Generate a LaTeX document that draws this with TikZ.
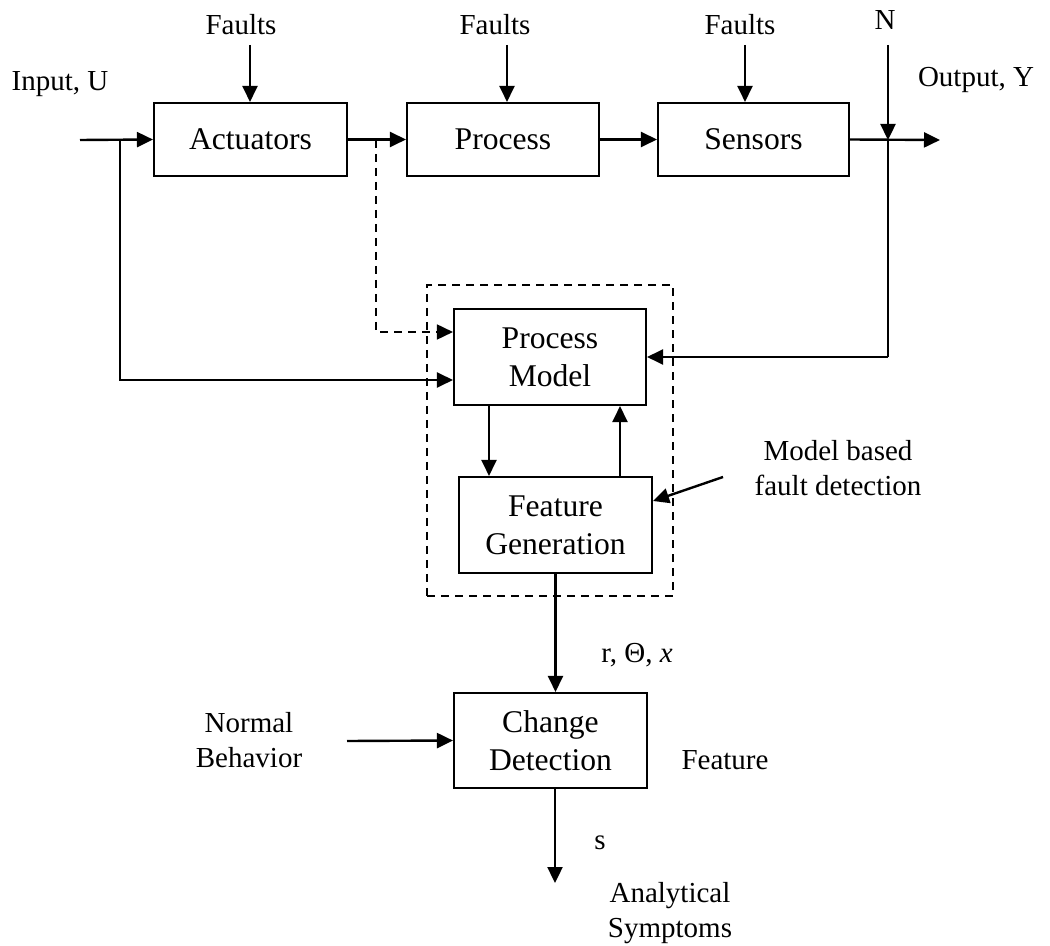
\documentclass[tikz,border=0pt]{standalone}
\usepackage{fontspec}
\setmainfont{Liberation Serif}
\usetikzlibrary{arrows.meta,calc}
\begin{document}
\begin{tikzpicture}[x=0.5pt,y=-0.5pt,
  blk/.style={draw,line width=1.05pt,inner sep=0pt,align=center,
    font=\fontsize{15.8}{19}\selectfont},
  lbl/.style={inner sep=0pt,align=center,font=\fontsize{14.5}{17.5}\selectfont},
  arr/.style={line width=1.2pt,-{Triangle[length=8pt,width=7.5pt]}},
  wire/.style={line width=1.2pt},
  dsh/.style={line width=0.85pt,dash pattern=on 4pt off 3pt}]
\useasboundingbox (0,0) rectangle (1050,946);

% main chain
\node[blk,minimum width=96.5pt,minimum height=36.5pt] (act)  at (250.5,139.5) {Actuators};
\node[blk,minimum width=96pt,minimum height=36.5pt]   (proc) at (503,139.5) {Process};
\node[blk,minimum width=95.5pt,minimum height=36.5pt] (sens) at (753.5,139.5) {Sensors};

% model based part
\node[dsh,draw,minimum width=123pt,minimum height=155.5pt,inner sep=0pt] (mbox) at (550,440.5) {};
\node[blk,minimum width=96pt,minimum height=48pt]   (pm) at (550,357) {Process\\Model};
\node[blk,minimum width=96.5pt,minimum height=48pt] (fg) at (555.5,525) {Feature\\Generation};
\node[blk,minimum width=96.5pt,minimum height=47.5pt] (cd) at (550.5,740.5) {Change\\Detection};

% labels
\node[lbl] (inl)  at (60,84)   {Input, U};
\node[lbl] (fa1)  at (241,25)  {Faults};
\node[lbl] (fa2)  at (495,25)  {Faults};
\node[lbl] (fa3)  at (740,25)  {Faults};
\node[lbl] (nl)   at (885,20)  {N};
\node[lbl] (outl) at (976,80)  {Output, Y};
\node[lbl] (mbl)  at (838,468) {Model based\\fault detection};
\node[lbl] (rl)   at (637,655) {r, Θ, \textit{x}};
\node[lbl] (nbl)  at (249,740) {Normal\\Behavior};
\node[lbl] (fl)   at (725,760) {Feature};
\node[lbl] (sl)   at (600,843) {s};
\node[lbl] (asl)  at (670,913) {Analytical\\Symptoms};

% signal points
\coordinate (uin)  at (80,140);
\coordinate (ub)   at (120,140);
\coordinate (ab)   at (376,140);
\coordinate (yout) at (940,140);
\coordinate (ntop) at (888,45);
\coordinate (nj)   at (888,140);
\coordinate (f1)   at (250,45);
\coordinate (f2)   at (507,45);
\coordinate (f3)   at (745,45);
\coordinate (dn)   at (489,0);
\coordinate (up)   at (620,0);
\coordinate (mbs)  at (723,477);
\coordinate (nbs)  at (347,741);
\coordinate (sym)  at (555,883);

% main chain connectors
\draw[arr] (uin) -- (act.west);
\draw[arr] (act.east) -- (proc.west);
\draw[arr] (proc.east) -- (sens.west);
\draw[arr] (sens.east) -- (yout);
\draw[arr] (f1) -- (f1 |- act.north);
\draw[arr] (f2) -- (f2 |- proc.north);
\draw[arr] (f3) -- (f3 |- sens.north);
\draw[arr] (ntop) -- (nj);

% feeds into the process model
\draw[arr] (ub) |- ([yshift=-11.5pt]pm.west);
\draw[arr,dsh] (ab) |- ([yshift=12.5pt]pm.west);
\draw[wire] (nj) -- (nj |- pm.east);
\draw[arr] (nj |- pm.east) -- (pm.east);

% inner loop and detection
\draw[arr] (pm.south -| dn) -- (fg.north -| dn);
\draw[arr] (fg.north -| up) -- (pm.south -| up);
\draw[arr] (mbs) -- ([yshift=12pt]fg.east);
\draw[arr] (fg.south) -- (fg.south |- cd.north);
\draw[arr] (nbs) -- (cd.west);
\draw[arr] (cd.south -| sym) -- (sym);
\end{tikzpicture}
\end{document}
